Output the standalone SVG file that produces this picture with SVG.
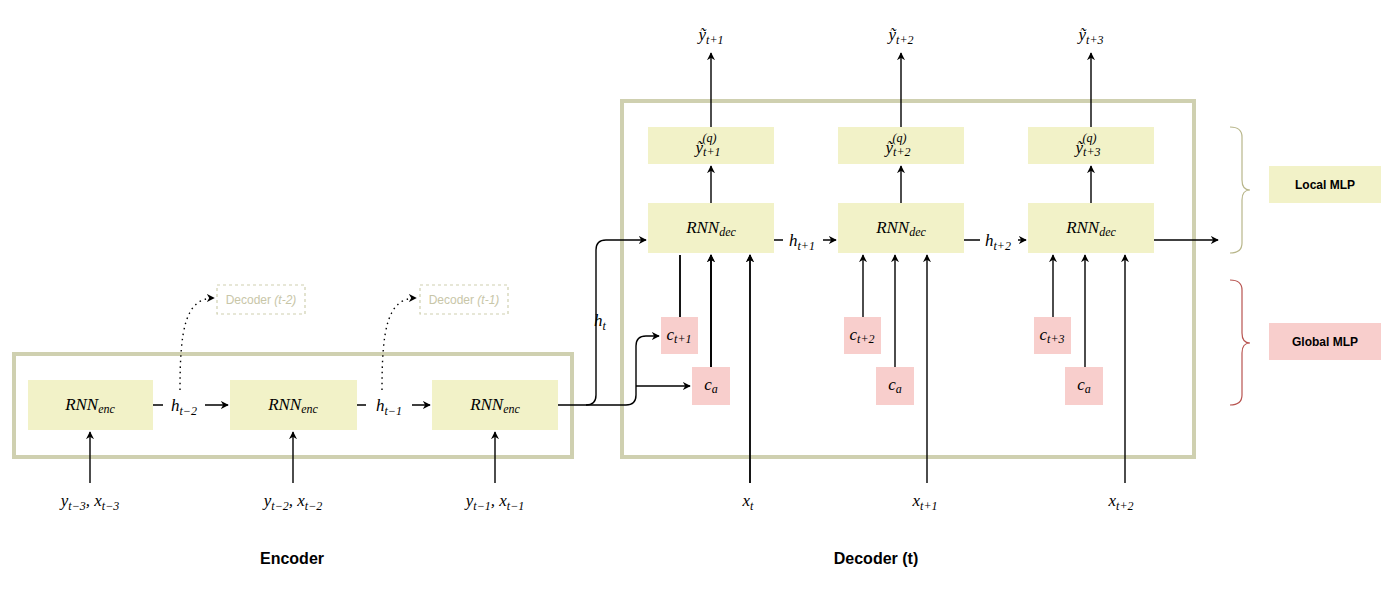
<svg xmlns="http://www.w3.org/2000/svg" width="1400" height="599" viewBox="0 0 1400 599">
<defs>
<style>
.n{fill:#f2f2c8}
.p{fill:#f8cecc}
.frame{fill:none;stroke:#cfd0b0;stroke-width:4}
.m{font-family:"Liberation Serif",serif;font-style:italic;font-size:17px;fill:#000;text-anchor:middle}
.s{font-size:12px}
.e{stroke:#000;stroke-width:1.4;fill:none}
.b{font-family:"Liberation Sans",Arial,sans-serif;font-weight:bold;fill:#000;text-anchor:middle}
.dec{fill:none;stroke:#cfd0b0;stroke-dasharray:3 3;stroke-width:1.2}
.dl{font-family:"Liberation Sans",Arial,sans-serif;font-size:12px;fill:#c8c6a8;text-anchor:middle}
</style>
<marker id="a" viewBox="0 0 10 10" refX="9" refY="5" markerWidth="8" markerHeight="8" markerUnits="userSpaceOnUse" orient="auto"><path d="M0,0L10,5L0,10L3,5z" fill="#000"/></marker>
</defs>
<rect class="frame" x="14" y="354" width="558" height="103"/>
<rect class="frame" x="622" y="101" width="572" height="356"/>
<g id="connectors">
<path class="e" d="M90,483V432" marker-end="url(#a)"/>
<path class="e" d="M293,483V432" marker-end="url(#a)"/>
<path class="e" d="M495,483V432" marker-end="url(#a)"/>
<path class="e" d="M153,405H163M205,405H228" marker-end="url(#a)"/>
<path class="e" d="M357,405H366M412,405H430" marker-end="url(#a)"/>
<path class="e" stroke-dasharray="1.5 4" d="M180,390C180,330 185,298 214,298" marker-end="url(#a)"/>
<path class="e" stroke-dasharray="1.5 4" d="M382,390C382,330 387,298 416,298" marker-end="url(#a)"/>
<path class="e" d="M558,405H586Q596,405 596,395V250Q596,240 606,240H646" marker-end="url(#a)"/>
<path class="e" d="M586,405H626Q636,405 636,395V346Q636,336 646,336H659" marker-end="url(#a)"/>
<path class="e" d="M636,386H690" marker-end="url(#a)"/>
<path class="e" d="M680,317V255M711,367V255M750,483V255" marker-end="url(#a)"/>
<path class="e" d="M680,317V255M711,367V255" marker-end="url(#a)"/>
<path class="e" d="M711,367V255" marker-end="url(#a)"/>
<path class="e" d="M750,483V255" marker-end="url(#a)"/>
<path class="e" d="M863,317V255" marker-end="url(#a)"/>
<path class="e" d="M895,367V255" marker-end="url(#a)"/>
<path class="e" d="M927,483V255" marker-end="url(#a)"/>
<path class="e" d="M1053,317V255" marker-end="url(#a)"/>
<path class="e" d="M1085,367V255" marker-end="url(#a)"/>
<path class="e" d="M1125,483V255" marker-end="url(#a)"/>
<path class="e" d="M711,203V166" marker-end="url(#a)"/>
<path class="e" d="M901,203V166" marker-end="url(#a)"/>
<path class="e" d="M1091,203V166" marker-end="url(#a)"/>
<path class="e" d="M711,127V53" marker-end="url(#a)"/>
<path class="e" d="M901,127V53" marker-end="url(#a)"/>
<path class="e" d="M1091,127V53" marker-end="url(#a)"/>
<path class="e" d="M774,240H783M823,240H836" marker-end="url(#a)"/>
<path class="e" d="M964,240H980M1018,240H1026" marker-end="url(#a)"/>
<path class="e" d="M1154,240H1218" marker-end="url(#a)"/>
<path d="M1230,127Q1242,127 1242,137V180Q1242,190 1250,190Q1242,190 1242,200V243Q1242,253 1230,253" fill="none" stroke="#b8b68a" stroke-width="1.2"/>
<path d="M1230,280Q1242,280 1242,290V333Q1242,343 1250,343Q1242,343 1242,353V395Q1242,405 1230,405" fill="none" stroke="#b85450" stroke-width="1.2"/>
</g>
<g id="enc1"><rect class="n" x="28" y="380" width="125" height="50"/><text class="m" x="90" y="410">RNN<tspan class="s" dy="3">enc</tspan></text></g>
<g id="enc2"><rect class="n" x="230" y="380" width="127" height="50"/><text class="m" x="293" y="410">RNN<tspan class="s" dy="3">enc</tspan></text></g>
<g id="enc3"><rect class="n" x="432" y="380" width="126" height="50"/><text class="m" x="495" y="410">RNN<tspan class="s" dy="3">enc</tspan></text></g>
<g id="dect2"><rect class="dec" x="217" y="285" width="88" height="29"/><text class="dl" x="261" y="304">Decoder <tspan font-style="italic">(t-2)</tspan></text></g>
<g id="dect1"><rect class="dec" x="420" y="285" width="88" height="29"/><text class="dl" x="464" y="304">Decoder <tspan font-style="italic">(t-1)</tspan></text></g>
<g id="labels">
<text class="m" x="184" y="411">h<tspan class="s" dy="4">t−2</tspan></text>
<text class="m" x="389" y="411">h<tspan class="s" dy="4">t−1</tspan></text>
<text class="m" x="600" y="326">h<tspan class="s" dy="4">t</tspan></text>
<text class="m" x="802" y="246">h<tspan class="s" dy="4">t+1</tspan></text>
<text class="m" x="998" y="246">h<tspan class="s" dy="4">t+2</tspan></text>
<text class="m" x="90" y="506">y<tspan class="s" dy="4">t−3</tspan><tspan dy="-4">, x</tspan><tspan class="s" dy="4">t−3</tspan></text>
<text class="m" x="293" y="506">y<tspan class="s" dy="4">t−2</tspan><tspan dy="-4">, x</tspan><tspan class="s" dy="4">t−2</tspan></text>
<text class="m" x="495" y="506">y<tspan class="s" dy="4">t−1</tspan><tspan dy="-4">, x</tspan><tspan class="s" dy="4">t−1</tspan></text>
<text class="m" x="748" y="506">x<tspan class="s" dy="4">t</tspan></text>
<text class="m" x="925" y="506">x<tspan class="s" dy="4">t+1</tspan></text>
<text class="m" x="1121" y="506">x<tspan class="s" dy="4">t+2</tspan></text>
<text class="m" x="711" y="40">ỹ<tspan class="s" dy="4">t+1</tspan></text>
<text class="m" x="901" y="40">ỹ<tspan class="s" dy="4">t+2</tspan></text>
<text class="m" x="1091" y="40">ỹ<tspan class="s" dy="4">t+3</tspan></text>
<text class="b" x="292" y="564" font-size="16">Encoder</text>
<text class="b" x="876" y="564" font-size="16">Decoder (t)</text>
</g>
<g id="yq1"><rect class="n" x="648" y="127" width="126" height="37"/><text class="m" x="708" y="153">ỹ<tspan class="s" dy="3">t+1</tspan><tspan class="s" dx="-18" dy="-14">(q)</tspan></text></g>
<g id="yq2"><rect class="n" x="838" y="127" width="126" height="37"/><text class="m" x="898" y="153">ỹ<tspan class="s" dy="3">t+2</tspan><tspan class="s" dx="-18" dy="-14">(q)</tspan></text></g>
<g id="yq3"><rect class="n" x="1028" y="127" width="126" height="37"/><text class="m" x="1088" y="153">ỹ<tspan class="s" dy="3">t+3</tspan><tspan class="s" dx="-18" dy="-14">(q)</tspan></text></g>
<g id="dec1"><rect class="n" x="648" y="203" width="126" height="50"/><text class="m" x="711" y="233">RNN<tspan class="s" dy="3">dec</tspan></text></g>
<g id="dec2"><rect class="n" x="838" y="203" width="126" height="50"/><text class="m" x="901" y="233">RNN<tspan class="s" dy="3">dec</tspan></text></g>
<g id="dec3"><rect class="n" x="1028" y="203" width="126" height="50"/><text class="m" x="1091" y="233">RNN<tspan class="s" dy="3">dec</tspan></text></g>
<g id="c1"><rect class="p" x="661" y="317" width="37" height="37"/><text class="m" x="679" y="340">c<tspan class="s" dy="3">t+1</tspan></text></g>
<g id="ca1"><rect class="p" x="692" y="367" width="38" height="38"/><text class="m" x="711" y="390">c<tspan class="s" dy="3">a</tspan></text></g>
<g id="c2"><rect class="p" x="844" y="317" width="37" height="37"/><text class="m" x="862" y="340">c<tspan class="s" dy="3">t+2</tspan></text></g>
<g id="ca2"><rect class="p" x="876" y="367" width="38" height="38"/><text class="m" x="895" y="390">c<tspan class="s" dy="3">a</tspan></text></g>
<g id="c3"><rect class="p" x="1034" y="317" width="37" height="37"/><text class="m" x="1052" y="340">c<tspan class="s" dy="3">t+3</tspan></text></g>
<g id="ca3"><rect class="p" x="1065" y="367" width="38" height="38"/><text class="m" x="1084" y="390">c<tspan class="s" dy="3">a</tspan></text></g>
<g id="local"><rect class="n" x="1269" y="166" width="112" height="37"/><text class="b" x="1325" y="189" font-size="12">Local MLP</text></g>
<g id="global"><rect class="p" x="1269" y="323" width="112" height="37"/><text class="b" x="1325" y="346" font-size="12">Global MLP</text></g>
</svg>
